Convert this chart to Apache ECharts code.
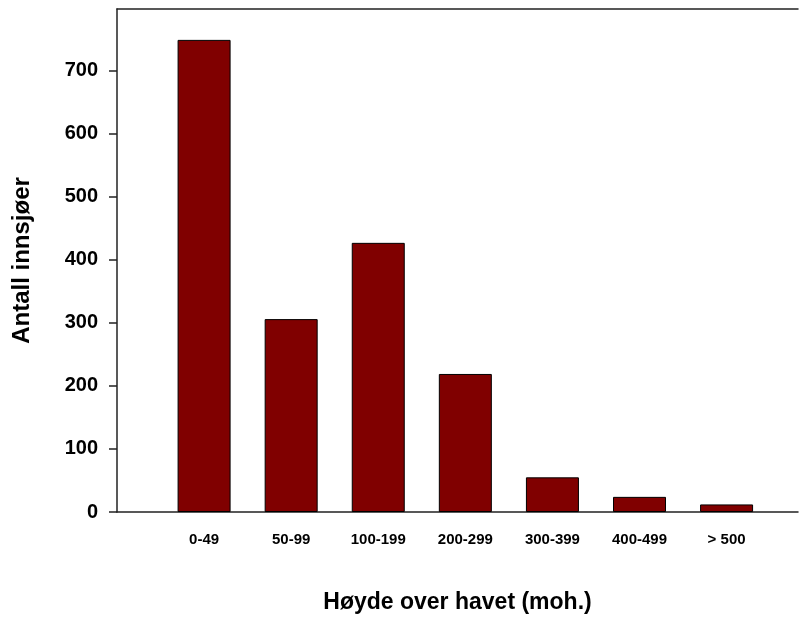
<!DOCTYPE html>
<html>
<head>
<meta charset="utf-8">
<script src="https://cdn.jsdelivr.net/npm/echarts@6/dist/echarts.min.js"></script>
<style>
  html, body { margin: 0; padding: 0; background: #fff; }
  #chart { width: 808px; height: 619px; }
</style>
</head>
<body>
<div id="chart"></div>
<script>
// Antall innsjøer per høydeintervall
const categories = ["0-49", "50-99", "100-199", "200-299", "300-399", "400-499", "> 500"];
const lakeCounts = [749, 306, 427, 219, 55, 24, 12];
const yTicks = [0, 100, 200, 300, 400, 500, 600, 700];

const font = "'Liberation Sans', Arial, sans-serif";
const axisColor = "#222";

const chart = echarts.init(document.getElementById("chart"));

chart.setOption({
  backgroundColor: "#fff",
  animation: false,
  grid: {
    left: 117,
    right: 10,
    top: 9,
    bottom: 107,
  },
  xAxis: [
    {
      type: "value",
      min: -1,
      max: 6.82,
      interval: 1,
      position: "bottom",
      name: "Høyde over havet (moh.)",
      nameLocation: "middle",
      nameGap: 79,
      nameTextStyle: {
        fontFamily: font,
        fontWeight: "bold",
        fontSize: 23,
        color: "#000",
      },
      axisLine: { show: true, onZero: false, lineStyle: { color: axisColor, width: 1.5 } },
      axisTick: { show: false },
      splitLine: { show: false },
      axisLabel: {
        margin: 20,
        fontFamily: font,
        fontWeight: "bold",
        fontSize: 15,
        color: "#000",
        formatter: (v) => (v >= 0 && categories[v] !== undefined ? categories[v] : ""),
      },
    },
    {
      // top frame line
      type: "value",
      min: -1,
      max: 6.82,
      position: "top",
      axisLine: { show: true, onZero: false, lineStyle: { color: axisColor, width: 1.5 } },
      axisTick: { show: false },
      axisLabel: { show: false },
      splitLine: { show: false },
    },
  ],
  yAxis: {
    type: "value",
    min: 0,
    max: 798,
    interval: 100,
    name: "Antall innsjøer",
    nameLocation: "middle",
    nameGap: 83,
    nameTextStyle: {
      fontFamily: font,
      fontWeight: "bold",
      fontSize: 24,
      color: "#000",
    },
    axisLine: { show: true, onZero: false, lineStyle: { color: axisColor, width: 1.5 } },
    axisTick: {
      show: true,
      length: 8,
      customValues: yTicks,
      lineStyle: { color: axisColor, width: 1.5 },
    },
    splitLine: { show: false },
    axisLabel: {
      margin: 19,
      fontFamily: font,
      fontWeight: "bold",
      fontSize: 20,
      color: "#000",
      customValues: yTicks,
    },
  },
  series: [
    {
      type: "bar",
      xAxisIndex: 0,
      barWidth: 53,
      itemStyle: {
        color: "#800000",
        borderColor: "#000",
        borderWidth: 1,
      },
      data: lakeCounts.map((v, i) => [i, v]),
    },
  ],
});
</script>
</body>
</html>
